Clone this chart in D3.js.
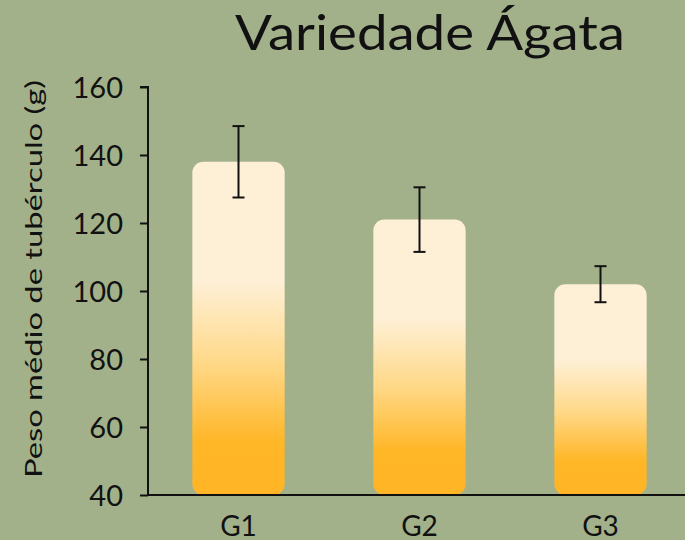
<!DOCTYPE html>
<meta charset="utf-8">
<style>
    body { margin: 0; background: #a3b18b; }
    svg { display: block; font-family: "Lato", "DejaVu Sans", sans-serif; }
</style>
<body>
<script src="https://cdn.jsdelivr.net/npm/d3@7"></script>
<script>
    var groups = ["G1", "G2", "G3"];
    var means = [138, 121, 102];
    var errors = [10.5, 9.5, 5.3];
    var yTicks = [40, 60, 80, 100, 120, 140, 160];

    var width = 685, height = 540;

    var svg = d3.select("body").append("svg")
        .attr("width", width)
        .attr("height", height);

    svg.append("rect").attr("width", width).attr("height", height).attr("fill", "#a3b18b");

    var x = d3.scaleBand()
        .domain(groups)
        .range([148, 691])
        .paddingInner(0.49)
        .paddingOuter(0.245);

    var y = d3.scaleLinear()
        .domain([40, 160])
        .range([495, 87]);

    // gradient per bar (bounding box)
    var grad = svg.append("defs").append("linearGradient")
        .attr("id", "barGrad")
        .attr("x1", 0).attr("y1", 0).attr("x2", 0).attr("y2", 1);
    grad.append("stop").attr("offset", "0%").attr("stop-color", "#fef0d6");
    grad.append("stop").attr("offset", "36%").attr("stop-color", "#fef0d6");
    grad.append("stop").attr("offset", "60%").attr("stop-color", "#ffd98a");
    grad.append("stop").attr("offset", "84%").attr("stop-color", "#ffb627");
    grad.append("stop").attr("offset", "100%").attr("stop-color", "#ffb525");

    svg.selectAll("rect.bar")
        .data(groups)
        .join("rect")
        .attr("class", "bar")
        .attr("x", function (d) { return x(d); })
        .attr("width", x.bandwidth())
        .attr("y", function (d, i) { return y(means[i]); })
        .attr("height", function (d, i) { return y(40) - y(means[i]); })
        .attr("rx", 11)
        .attr("fill", "url(#barGrad)");

    // error bars
    var eb = svg.selectAll("g.err")
        .data(groups)
        .join("g")
        .attr("class", "err")
        .attr("stroke", "#111")
        .attr("stroke-width", 2);
    eb.append("line")
        .attr("x1", function (d) { return x(d) + x.bandwidth() / 2; })
        .attr("x2", function (d) { return x(d) + x.bandwidth() / 2; })
        .attr("y1", function (d, i) { return y(means[i] + errors[i]); })
        .attr("y2", function (d, i) { return y(means[i] - errors[i]); });
    [1, -1].forEach(function (s) {
        eb.append("line")
            .attr("x1", function (d) { return x(d) + x.bandwidth() / 2 - 6; })
            .attr("x2", function (d) { return x(d) + x.bandwidth() / 2 + 6; })
            .attr("y1", function (d, i) { return y(means[i] + s * errors[i]); })
            .attr("y2", function (d, i) { return y(means[i] + s * errors[i]); });
    });

    // y axis
    var yAxis = svg.append("g")
        .attr("transform", "translate(148,0)")
        .call(d3.axisLeft(y).tickValues(yTicks).tickSize(8).tickPadding(17));
    yAxis.selectAll("path, line").attr("stroke", "#111").attr("stroke-width", 2);
    yAxis.select(".domain").attr("d", "M-8,87H0V495");
    yAxis.selectAll("text")
        .attr("fill", "#111")
        .attr("dy", "0.36em")
        .style("font-size", "29px")
        .style("font-family", "Lato, sans-serif");

    // x axis
    var xAxis = svg.append("g")
        .attr("transform", "translate(0,495)")
        .call(d3.axisBottom(x).tickSize(0).tickPadding(21));
    xAxis.select(".domain").attr("d", "M148,0H685").attr("stroke", "#111").attr("stroke-width", 2);
    xAxis.selectAll("text")
        .attr("fill", "#111")
        .style("font-size", "28px")
        .style("font-family", "Lato, sans-serif");

    // titles
    svg.append("text")
        .attr("x", 430).attr("y", 50)
        .attr("text-anchor", "middle")
        .attr("textLength", 390)
        .attr("lengthAdjust", "spacingAndGlyphs")
        .style("font-size", "48px")
        .attr("fill", "#111")
        .text("Variedade Ágata");

    svg.append("text")
        .attr("transform", "translate(42,279) rotate(-90)")
        .attr("text-anchor", "middle")
        .attr("textLength", 398)
        .attr("lengthAdjust", "spacingAndGlyphs")
        .style("font-size", "23px")
        .attr("fill", "#111")
        .text("Peso médio de tubérculo (g)");
</script>
</body>
